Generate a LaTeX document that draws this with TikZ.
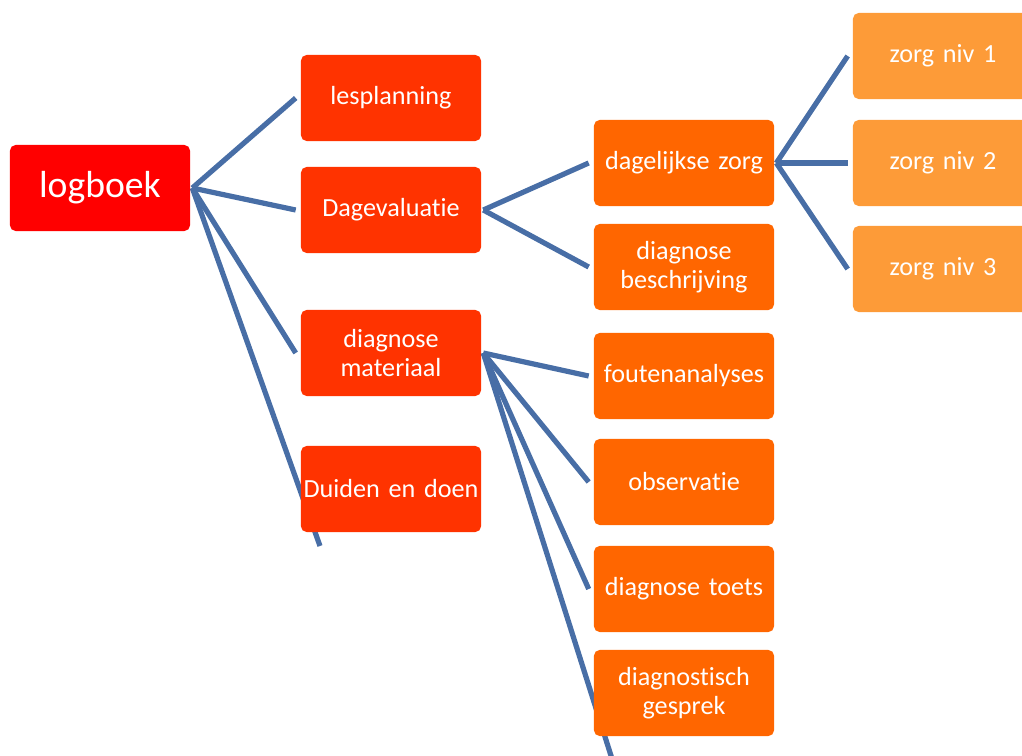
\documentclass[tikz,border=0pt]{standalone}
\usepackage{fontspec}
\setmainfont{Carlito}[Ligatures=NoCommon]
\usetikzlibrary{calc,backgrounds}
\definecolor{c0}{RGB}{255,0,0}
\definecolor{c1}{RGB}{255,51,0}
\definecolor{c2}{RGB}{255,102,0}
\definecolor{c3}{RGB}{253,155,56}
\definecolor{cl}{RGB}{72,110,166}
\tikzset{%
  box/.style={rectangle,rounded corners=4pt,minimum width=4.5cm,minimum height=2.15cm,
    text width=4.4cm,align=center,inner sep=0pt,fill=#1,text=white,
    font=\fontsize{18.6}{20.5}\selectfont},
  box/.default=c1,
  link/.style={cl,line width=3.7pt}
}
\NewDocumentCommand\branch{mm}{%
  \draw[link] ($(#1.east)+(2,0)$) -- ($(#2.west)+(-5,0)$);
}

\begin{document}
\begin{tikzpicture}[x=0.025cm,y=-0.025cm]
  \useasboundingbox (0,0) rectangle (1022,756);
  % root
  \node[box=c0,font=\fontsize{26.8}{30}\selectfont] (logboek) at (100,188) {logboek};
  % first level
  \node[box] (lesplanning) at (391,98) {lesplanning};
  \node[box] (dagevaluatie) at (391,210) {Dagevaluatie};
  \node[box] (diagmat) at (391,353) {diagnose\\materiaal};
  \node[box] (duiden) at (391,489) {Duiden en doen};
  % second level
  \node[box=c2] (dagzorg) at (684,163) {dagelijkse zorg};
  \node[box=c2] (diagbeschr) at (684,267) {diagnose\\beschrijving};
  \node[box=c2] (fouten) at (684,376) {foutenanalyses};
  \node[box=c2] (observatie) at (684,482) {observatie};
  \node[box=c2] (diagtoets) at (684,589) {diagnose toets};
  \node[box=c2] (diaggesprek) at (684,693) {diagnostisch\\gesprek};
  % third level
  \node[box=c3] (zorgA) at (943,56) {zorg niv 1};
  \node[box=c3] (zorgB) at (943,163) {zorg niv 2};
  \node[box=c3] (zorgC) at (943,269) {zorg niv 3};
  % loose ends, running on behind the boxes
  \coordinate (duidenend) at (320,546);
  \coordinate (gesprekend) at (613,762);
  \begin{pgfonlayer}{background}
    \branch{logboek}{lesplanning}
    \branch{logboek}{dagevaluatie}
    \branch{logboek}{diagmat}
    \draw[link] ($(logboek.east)+(2,0)$) -- (duidenend);
    \branch{dagevaluatie}{dagzorg}
    \branch{dagevaluatie}{diagbeschr}
    \branch{diagmat}{fouten}
    \branch{diagmat}{observatie}
    \branch{diagmat}{diagtoets}
    \draw[link] ($(diagmat.east)+(2,0)$) -- (gesprekend);
    \branch{dagzorg}{zorgA}
    \branch{dagzorg}{zorgB}
    \branch{dagzorg}{zorgC}
  \end{pgfonlayer}
\end{tikzpicture}
\end{document}
